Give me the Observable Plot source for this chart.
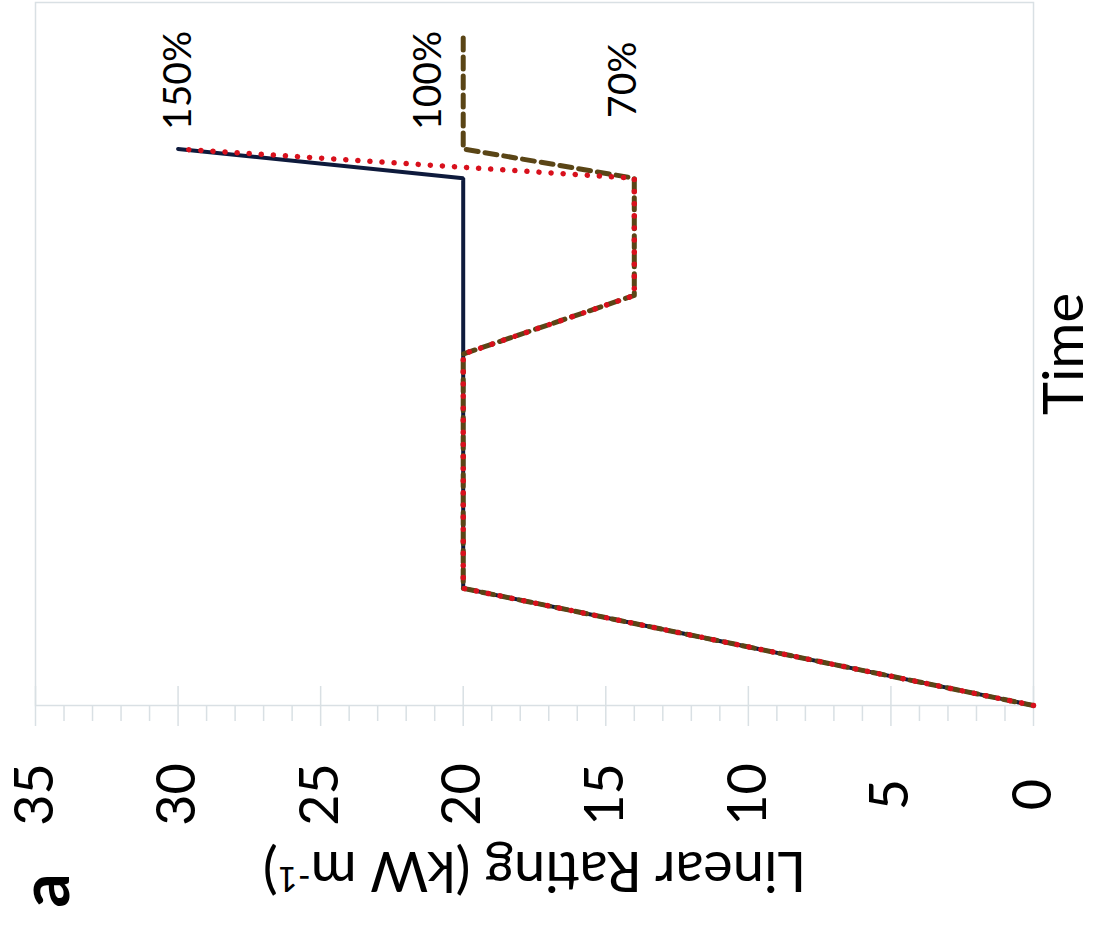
<!DOCTYPE html>
<html>
<head>
<meta charset="utf-8">
<script src="https://cdn.jsdelivr.net/npm/d3@7"></script>
<script src="https://cdn.jsdelivr.net/npm/@observablehq/plot@0.6"></script>
<style>
  html, body { margin: 0; padding: 0; background: #fff; }
  #wrap { position: relative; width: 1105px; height: 929px; overflow: hidden; }
  /* the figure is laid out upright, then turned a quarter turn anticlockwise */
  #wrap svg { position: absolute; left: 0; top: 0; transform-origin: 0 0; transform: translate(0, 929px) rotate(-90deg); overflow: visible; }
</style>
</head>
<body>
<div id="wrap"></div>
<script>
// Rating schedules (kW per metre) against time (h)
const solidTime   = [0, 4, 18, 19];
const solidRating = [0, 20, 20, 30];

const dottedTime   = [0, 4, 12, 14, 18, 19];
const dottedRating = [0, 20, 20, 14, 14, 30];

const dashedTime   = [0, 4, 12, 14, 18, 19, 23];
const dashedRating = [0, 20, 20, 14, 14, 20, 20];

// End-state labels, as percent of the 20 kW/m base rating
const baseRating = 20;
const pctLabels = ["150%", "100%", "70%"];
const pctValues = [150, 100, 70];
const labelTime = 19;

const ratingTicks = [0, 5, 10, 15, 20, 25, 30, 35];
const minorTicks = d3.range(0, 36).filter(v => !ratingTicks.includes(v));

const toRows = (t, r) => t.map((d, i) => ({t: d, r: r[i]}));
const solid = toRows(solidTime, solidRating);
const dotted = toRows(dottedTime, dottedRating);
const dashed = toRows(dashedTime, dashedRating);
const pctRows = pctLabels.map((s, i) => ({label: s, t: labelTime, r: baseRating * pctValues[i] / 100}));

const gridGray = "#d9e0e4";
const font = "Lato, 'Noto Sans', sans-serif";

const chart = Plot.plot({
  width: 929,
  height: 1105,
  marginLeft: 223,
  marginRight: 3,
  marginTop: 35,
  marginBottom: 72,
  x: {domain: [0, 24], axis: null},
  y: {domain: [0, 35], axis: null},
  style: {fontFamily: font, color: "#000", background: "#fff"},
  marks: [
    Plot.frame({stroke: gridGray, strokeWidth: 1.5}),
    // major ticks straddle the axis, minor ticks point outward
    Plot.axisY(ratingTicks, {anchor: "left", tickSize: 40, dx: 20, tickFormat: () => "", stroke: gridGray, strokeWidth: 1.5, label: null}),
    Plot.axisY(minorTicks, {anchor: "left", tickSize: 15, tickFormat: () => "", stroke: gridGray, strokeWidth: 1.5, label: null}),
    Plot.axisY(ratingTicks, {anchor: "left", tickSize: 0, tickPadding: 89, textAnchor: "middle", fontSize: 54, label: null}),
    Plot.line(solid, {x: "t", y: "r", stroke: "#0e1a3c", strokeWidth: 4, strokeLinejoin: "miter"}),
    Plot.line(dashed, {x: "t", y: "r", stroke: "#5a4516", strokeWidth: 5, strokeDasharray: "12,7"}),
    Plot.line(dotted, {x: "t", y: "r", stroke: "#d8101c", strokeWidth: 5.5, strokeDasharray: "0.1,12", strokeLinecap: "round"}),
    Plot.text([pctRows[0]], {x: "t", y: "r", text: "label", textAnchor: "start", dx: 19, dy: 0, fontSize: 39}),
    Plot.text([pctRows[1]], {x: "t", y: "r", text: "label", textAnchor: "start", dx: 19, dy: -35, fontSize: 39}),
    Plot.text([pctRows[2]], {x: "t", y: "r", text: "label", textAnchor: "start", dx: 31, dy: -11, fontSize: 39}),
    Plot.text(["Time"], {frameAnchor: "bottom", dy: 32, lineAnchor: "middle", textAnchor: "middle", fontSize: 56}),
    Plot.text(["Linear Rating (kW m-1)"], {frameAnchor: "left", dx: -164, rotate: -90, lineAnchor: "middle", textAnchor: "middle", fontSize: 56, className: "ylabel"}),
    Plot.text(["a"], {frameAnchor: "top-left", dx: -185, dy: 12, lineAnchor: "middle", textAnchor: "middle", fontSize: 68, fontWeight: "bold"})
  ]
});

document.getElementById("wrap").appendChild(chart);

// superscript the unit exponent in the rating label
chart.querySelectorAll(".ylabel text").forEach(t => {
  if (t.textContent.includes("m-1")) {
    t.textContent = "";
    const ns = "http://www.w3.org/2000/svg";
    const a = document.createElementNS(ns, "tspan");
    a.textContent = "Linear Rating (kW m";
    const b = document.createElementNS(ns, "tspan");
    b.textContent = "-1";
    b.setAttribute("dy", "-0.45em");
    b.setAttribute("font-size", "0.62em");
    const c = document.createElementNS(ns, "tspan");
    c.textContent = ")";
    c.setAttribute("dy", "0.28em");
    t.append(a, b, c);
  }
});
</script>
</body>
</html>
